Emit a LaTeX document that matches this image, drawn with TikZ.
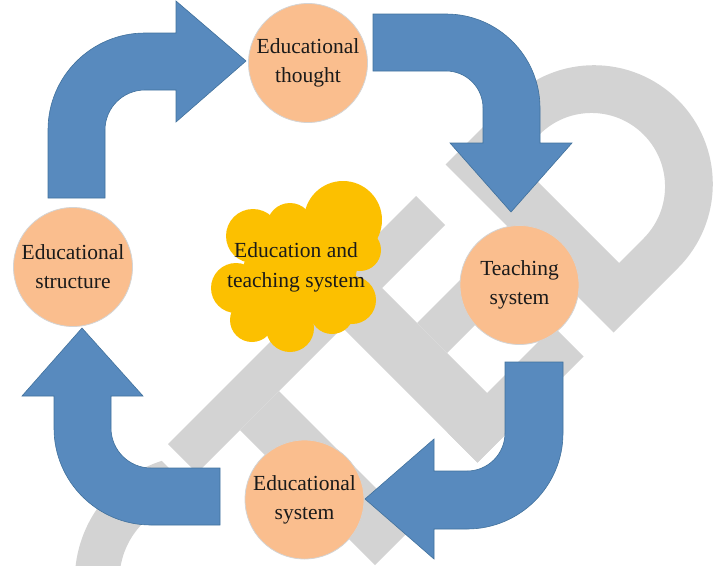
\documentclass[tikz,border=0pt]{standalone}
\usepackage{fontspec}
\setmainfont{Liberation Serif}
\definecolor{arrowblue}{HTML}{588ABE}
\definecolor{arrowedge}{HTML}{41719C}
\definecolor{peach}{HTML}{FABE8E}
\definecolor{rimgray}{HTML}{D4D4D4}
\definecolor{logogray}{HTML}{D3D3D3}
\definecolor{cloudgold}{HTML}{FCC000}
\definecolor{ink}{HTML}{1A1A1A}
\tikzset{
  bentarrow/.style={fill=arrowblue, draw=arrowedge, line width=0.6pt, line join=miter},
  stage/.style={circle, fill=peach, draw=rimgray, line width=0.8pt, minimum size=119pt,
    inner sep=0pt, align=center, text=ink, font=\fontsize{21.5}{29}\selectfont},
  cloudtext/.style={align=center, text=ink, inner sep=0pt, font=\fontsize{21.5}{30}\selectfont},
  logo/.style={fill=logogray},
  cloudfill/.style={fill=cloudgold}
}
\begin{document}
\begin{tikzpicture}[x=1pt,y=-1pt]
\useasboundingbox (0,0) rectangle (722,565);
% ---- background watermark ----
\begin{scope}
\clip (0,0) rectangle (722,565);
\begin{scope}[x={(0.5pt,-0.5pt)}, y={(0.5pt,0.5pt)}]
  \fill[logo] (612,-276) -- (670,-276) -- (670,220) -- (612,220) -- cycle;
  \fill[logo] (670,-190) -- (940,-190) -- (940,-112) -- (670,-112) -- cycle;
  \fill[logo] (612,15) -- (940,15) -- (940,94) -- (612,94) -- cycle;
  \fill[logo] (740,94) -- (800,94) -- (800,281) -- (740,281) -- cycle;
  \fill[logo] (880,15) -- (940,15) -- (940,227) -- (880,227) -- cycle;
  \fill[logo, even odd rule]
    (940,281) -- (610,281) -- (610,410) arc[start angle=180, end angle=0, radius=168] -- (946,281) -- cycle
    (674,356) -- (674,405) arc[start angle=180, end angle=0, radius=104] -- (882,356) -- cycle;
  \fill[logo] (622.6,-299.1) arc[start angle=152.8, end angle=300, radius=177]
    -- (837,-478.7) arc[start angle=300, end angle=134.7, radius=114] -- cycle;
\end{scope}
\end{scope}
% ---- bent arrows ----
\draw[bentarrow] (48,198) -- (48,130) arc[start angle=180, end angle=270, radius=97]
  -- (176,33) -- (176,1) -- (246,61) -- (176,122) -- (176,90) -- (145,90)
  arc[start angle=270, end angle=180, radius=40] -- (105,198) -- cycle;
\draw[bentarrow] (373,14) -- (446,14) arc[start angle=270, end angle=360, radius=94]
  -- (540,143) -- (572,143) -- (511,212) -- (450,143) -- (483,143) -- (483,108)
  arc[start angle=0, end angle=-90, radius=37] -- (373,71) -- cycle;
\draw[bentarrow] (563,362) -- (563,433) arc[start angle=0, end angle=90, radius=96]
  -- (434,529) -- (434,559) -- (365,499) -- (434,439) -- (434,471) -- (467,471)
  arc[start angle=90, end angle=0, radius=38] -- (505,362) -- cycle;
\draw[bentarrow] (220,525) -- (151,525) arc[start angle=90, end angle=180, radius=97]
  -- (54,396) -- (22,396) -- (82,328) -- (143,396) -- (111,396) -- (111,428)
  arc[start angle=180, end angle=90, radius=40] -- (220,468) -- cycle;
% ---- cloud ----
\fill[cloudfill] (343,220) -- (360,250) -- (352,300) -- (332,312) -- (290,328)
  -- (252,320) -- (236,288) -- (253,236) -- (290,226) -- cycle;
\fill[cloudfill] (343,220) circle[radius=39];
\fill[cloudfill] (360,250) circle[radius=21];
\fill[cloudfill] (352,300) circle[radius=24];
\fill[cloudfill] (332,312) circle[radius=22];
\fill[cloudfill] (290,328) circle[radius=24];
\fill[cloudfill] (252,320) circle[radius=22];
\fill[cloudfill] (236,288) circle[radius=25];
\fill[cloudfill] (253,236) circle[radius=27];
\fill[cloudfill] (290,226) circle[radius=23];
\node[cloudtext] (core) at (296,267) {Education and\\teaching system};
% ---- stages ----
\node[stage] (thought) at (308,63) {Educational\\thought};
\node[stage] (teaching) at (519.5,285) {Teaching\\system};
\node[stage] (edusys) at (304.5,499.5) {Educational\\system};
\node[stage] (structure) at (73,267) {Educational\\structure};
\end{tikzpicture}
\end{document}
